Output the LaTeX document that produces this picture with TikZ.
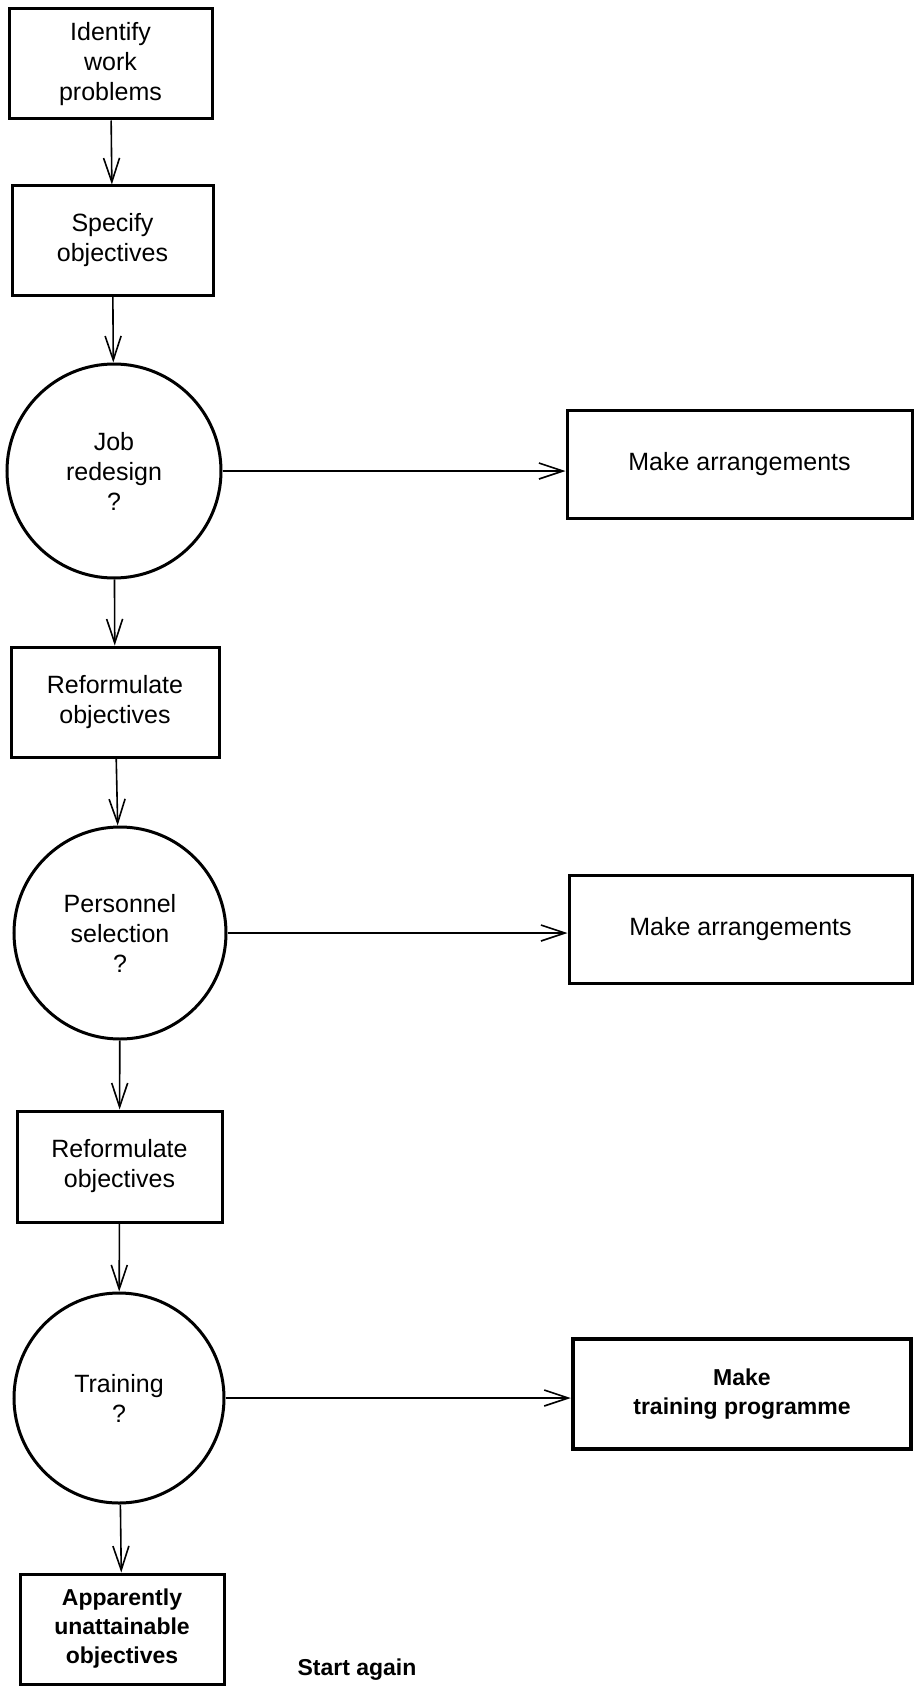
\documentclass[tikz,border=0pt]{standalone}
\usepackage{fontspec}
\setmainfont{Liberation Sans}
\usetikzlibrary{arrows.meta}

\begin{document}
\begin{tikzpicture}[x=1pt,y=-1pt,
  box/.style={draw,line width=3pt,rectangle,align=center,inner sep=0pt},
  ring/.style={draw,line width=3pt,circle,align=center,inner sep=0pt},
  txt/.style={font=\fontsize{25}{30}\selectfont},
  heavy/.style={font=\fontsize{23}{29}\selectfont\bfseries},
  link/.style={line width=1.6pt,-{Straight Barb[length=24pt,width=16pt,line width=1.6pt]}}]
\useasboundingbox (0,0) rectangle (914,1688);
% main column
\node[box,txt,minimum width=203pt,minimum height=110pt] (I) at (110.5,64) {Identify\\work\\problems};
\node[box,txt,minimum width=201pt,minimum height=109pt] (S) at (112.5,240.5) {Specify\\objectives};
\node[ring,txt,minimum size=214pt] (J) at (114,471) {Job\\redesign\\?};
\node[box,txt,minimum width=208pt,minimum height=110pt] (R1) at (115,702) {Reformulate\\objectives};
\node[ring,txt,minimum size=212pt] (P) at (120,933) {Personnel\\selection\\?};
\node[box,txt,minimum width=205pt,minimum height=111pt] (R2) at (119.5,1166.5) {Reformulate\\objectives};
\node[ring,txt,minimum size=210pt] (T) at (119,1398) {Training\\?};
\node[box,heavy,minimum width=204pt,minimum height=110pt] (U) at (122,1629) {Apparently\\unattainable\\objectives};
\node[heavy] (G) at (357,1670) {Start again};
% right column
\node[box,txt,minimum width=345pt,minimum height=108pt] (A1) at (739.5,464) {Make arrangements};
\node[box,txt,minimum width=343pt,minimum height=108pt] (A2) at (740.5,929) {Make arrangements};
\node[box,heavy,line width=4.5pt,minimum width=338pt,minimum height=110pt] (M) at (742,1394) {Make\\training programme};
% connectors
\draw[link] (I) -- (S);
\draw[link] (S) -- (J);
\draw[link] (J) -- (R1);
\draw[link] (R1) -- (P);
\draw[link] (P) -- (R2);
\draw[link] (R2) -- (T);
\draw[link] (T) -- (U);
\draw[link] (J.east) -- (J.east -| A1.west);
\draw[link] (P.east) -- (P.east -| A2.west);
\draw[link] (T.east) -- (T.east -| M.west);
\end{tikzpicture}
\end{document}
